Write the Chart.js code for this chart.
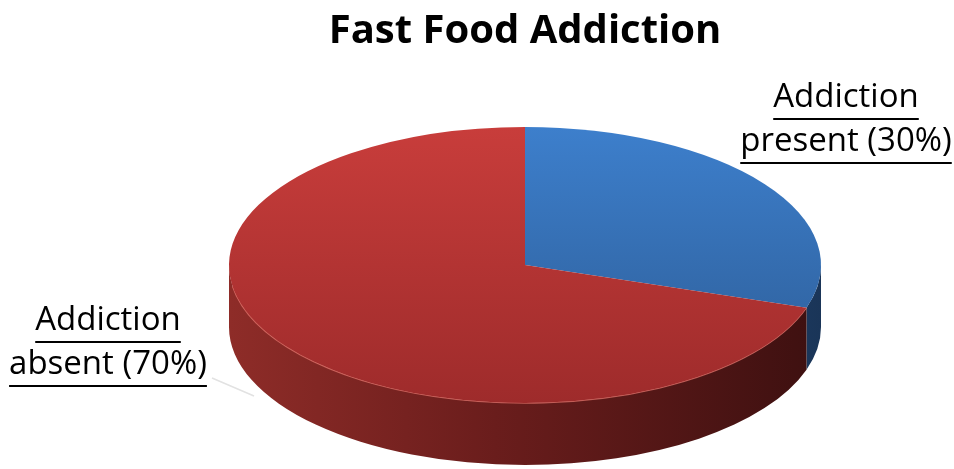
<!DOCTYPE html>
<html>
<head>
    <meta charset="UTF-8">
    <script src="https://cdn.jsdelivr.net/npm/chart.js@4/dist/chart.umd.min.js"></script>
    <style>
        html, body { margin: 0; padding: 0; background: #fff; }
        #wrap { width: 954px; height: 469px; position: relative; }
    </style>
</head>
<body>
<div id="wrap"><canvas id="pie-graph"></canvas></div>

<script>
    // Data
    var categories = ["Addiction present", "Addiction absent"];
    var shares = [30, 70];

    // colours (top face gradient top -> bottom, side colour)
    var topLight = ["#3d7fcc", "#c83d3b"];
    var topDark = ["#2c5b94", "#9e2b2b"];
    var sideLight = ["#2b5690", "#8e2c28"];
    var sideDark = ["#1a3558", "#3d1010"];

    // look of the tilted pie
    var RX = 296, RY = 138, DEPTH = 62;

    var pie3d = {
        id: 'pie3d',
        beforeDatasetsDraw: function (chart) {
            var ctx = chart.ctx;
            var arcs = chart.getDatasetMeta(0).data;
            var cx = arcs[0].x, cy = arcs[0].y, R = arcs[0].outerRadius;

            // front side of the disc
            ctx.save();
            arcs.forEach(function (arc, i) {
                var s = Math.max(arc.startAngle, 0);
                var e = Math.min(arc.endAngle, Math.PI);
                if (e <= s) return;
                var g = ctx.createLinearGradient(cx - RX, 0, cx + RX, 0);
                g.addColorStop(0, sideLight[i]);
                g.addColorStop(0.45, i == 1 ? "#6a1d1c" : sideLight[i]);
                g.addColorStop(1, sideDark[i]);
                ctx.beginPath();
                ctx.ellipse(cx, cy, RX, RY, 0, s, e);
                ctx.ellipse(cx, cy + DEPTH, RX, RY, 0, e, s, true);
                ctx.closePath();
                ctx.fillStyle = g;
                ctx.fill();
            });
            // light rim on the front edge
            ctx.beginPath();
            ctx.ellipse(cx, cy, RX, RY, 0, 0.1 * Math.PI, 0.95 * Math.PI);
            ctx.strokeStyle = "rgba(235,120,110,0.7)";
            ctx.lineWidth = 1.5;
            ctx.stroke();
            ctx.restore();

            // squash the flat pie into an ellipse
            ctx.save();
            ctx.translate(cx, cy);
            ctx.scale(RX / R, RY / R);
            ctx.translate(-cx, -cy);
        },
        afterDatasetsDraw: function (chart) {
            chart.ctx.restore();
        }
    };

    // underlined category labels
    var labelSpots = [[846, 98], [108, 321]];
    var pieLabels = {
        id: 'pieLabels',
        afterDraw: function (chart) {
            var ctx = chart.ctx;
            ctx.save();
            ctx.font = '33px "Open Sans", sans-serif';
            ctx.fillStyle = "#000";
            ctx.strokeStyle = "#000";
            ctx.lineWidth = 2;
            ctx.textAlign = "center";
            ctx.textBaseline = "middle";
            categories.forEach(function (name, i) {
                var words = name.split(" ");
                var lines = [words[0], words.slice(1).join(" ") + " (" + shares[i] + "%)"];
                lines.forEach(function (txt, j) {
                    var x = labelSpots[i][0], y = labelSpots[i][1] + j * 44;
                    ctx.fillText(txt, x, y);
                    var w = ctx.measureText(txt).width;
                    ctx.beginPath();
                    ctx.moveTo(x - w / 2, y + 21);
                    ctx.lineTo(x + w / 2, y + 21);
                    ctx.stroke();
                });
            });
            // faint leader line
            ctx.beginPath();
            ctx.moveTo(212, 378);
            ctx.lineTo(254, 396);
            ctx.strokeStyle = "#e2e2e2";
            ctx.lineWidth = 1.5;
            ctx.stroke();
            ctx.restore();
        }
    };

    function faceColour(context) {
        var area = context.chart.chartArea;
        if (!area) return topLight[context.dataIndex];
        var g = context.chart.ctx.createLinearGradient(0, area.top, 0, area.bottom);
        g.addColorStop(0, topLight[context.dataIndex]);
        g.addColorStop(1, topDark[context.dataIndex]);
        return g;
    }

    var ctx = document.getElementById("pie-graph").getContext("2d");
    var PieChart = new Chart(ctx, {
        type: 'pie',
        data: {
            labels: categories,
            datasets: [{
                data: shares,
                backgroundColor: faceColour,
                borderWidth: 0
            }]
        },
        options: {
            responsive: true,
            maintainAspectRatio: false,
            animation: false,
            events: [],
            layout: { padding: { left: 100, right: 4, top: 0, bottom: 5 } },
            plugins: {
                legend: { display: false },
                tooltip: { enabled: false },
                title: {
                    display: true,
                    text: "Fast Food Addiction",
                    color: "#000",
                    font: { family: '"Open Sans", sans-serif', size: 40, weight: 'bold' },
                    padding: { top: 8, bottom: 10 }
                }
            }
        },
        plugins: [pie3d, pieLabels]
    });
</script>
</body>
</html>
